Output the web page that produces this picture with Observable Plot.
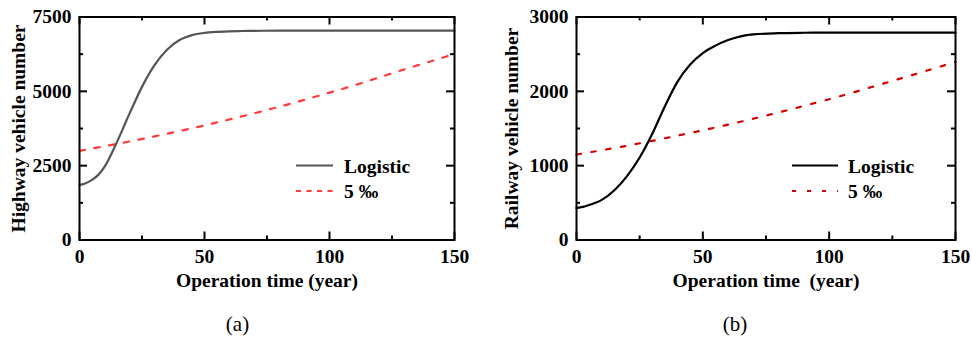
<!DOCTYPE html>
<html><head><meta charset="utf-8">
<script src="https://cdn.jsdelivr.net/npm/d3@7"></script>
<script src="https://cdn.jsdelivr.net/npm/@observablehq/plot@0.6"></script>
<style>
body{margin:0;background:#fff;}
#wrap{display:flex;width:972px;height:340px;}
#wrap svg{display:block;}
</style></head><body><div id="wrap"></div>
<script>
// ---- data ----
const years = [0,2.5,5,7.5,10,15,20,25,30,35,40,45,50,55,60,65,70,80,90,100,110,120,130,140,150];
const highwayLogistic = [1850,1910,2020,2190,2460,3300,4250,5150,5880,6400,6725,6890,6965,7000,7018,7029,7035,7040,7040,7040,7040,7040,7040,7040,7040];
const railwayLogistic = [430,445,470,500,540,670,860,1110,1430,1800,2130,2360,2515,2615,2690,2740,2765,2782,2788,2790,2790,2790,2790,2790,2790];
const rateYears = [0,10,20,30,40,50,60,70,80,90,100,110,120,130,140,150];
const highwayRate = [3000,3155,3315,3485,3665,3855,4055,4265,4485,4715,4955,5205,5470,5740,5995,6255];
const railwayRate = [1150,1208,1268,1334,1404,1476,1552,1632,1716,1804,1894,1990,2090,2190,2292,2395];
const seriesNames = ["Logistic", "5 \u2030"];
const xTicks = [0,50,100,150];
const xMinor = [25,75,125];
const highwayTicks = [0,2500,5000,7500];
const highwayMinor = [1250,3750,6250];
const railwayTicks = [0,1000,2000,3000];
const railwayMinor = [500,1500,2500];
const xTitleA = "Operation time (year)";
const xTitleB = "Operation time\u00a0 (year)";
const yTitleA = "Highway vehicle number";
const yTitleB = "Railway vehicle number";
const captions = ["(a)", "(b)"];

const FONT = "'Liberation Serif', 'Times New Roman', serif";
const FS = 19.5;

function panel(cfg) {
  const W = 486, H = 340;
  const mt = 16.5, mb = 100.5;
  const innerW = W - cfg.ml - cfg.mr;
  const innerH = H - mt - mb;
  const logi = years.map((t,i)=>({t, v: cfg.logistic[i]}));
  const rate = rateYears.map((t,i)=>({t, v: cfg.rate[i]}));
  const tickStyle = {stroke: "black", strokeWidth: 2};
  const fmt = d => String(d);
  const svg = Plot.plot({
    width: W, height: H,
    marginLeft: cfg.ml, marginRight: cfg.mr, marginTop: mt, marginBottom: mb,
    x: {domain: [0,150]},
    y: {domain: [0, cfg.ymax]},
    style: {fontFamily: FONT, fontSize: FS + "px", fontWeight: "bold", color: "black", background: "white", overflow: "visible"},
    marks: [
      Plot.line(rate, {x: "t", y: "v", stroke: cfg.rateColor, strokeWidth: 2.2, strokeDasharray: cfg.dash, curve: "monotone-x"}),
      Plot.line(logi, {x: "t", y: "v", stroke: cfg.logColor, strokeWidth: 2.2, curve: "monotone-x"}),
      // inward ticks
      Plot.tickY(cfg.yTicks, {y: d=>d, insetRight: innerW - 8, ...tickStyle}),
      Plot.tickY(cfg.yMinor, {y: d=>d, insetRight: innerW - 4, ...tickStyle}),
      Plot.tickY(cfg.yTicks, {y: d=>d, insetLeft: innerW - 8, ...tickStyle}),
      Plot.tickY(cfg.yMinor, {y: d=>d, insetLeft: innerW - 4, ...tickStyle}),
      Plot.tickX(xTicks, {x: d=>d, insetTop: innerH - 8, ...tickStyle}),
      Plot.tickX(xMinor, {x: d=>d, insetTop: innerH - 4, ...tickStyle}),
      Plot.tickX(xTicks, {x: d=>d, insetBottom: innerH - 8, ...tickStyle}),
      Plot.tickX(xMinor, {x: d=>d, insetBottom: innerH - 4, ...tickStyle}),
      Plot.frame({stroke: "black", strokeWidth: 2}),
      Plot.axisX(xTicks, {tickSize: 0, tickPadding: 9, label: null, tickFormat: fmt, fontSize: FS, fontWeight: "bold", fill: "black"}),
      Plot.axisY(cfg.yTicks, {tickSize: 0, tickPadding: 8, label: null, tickFormat: fmt, fontSize: FS, fontWeight: "bold", fill: "black"}),
      Plot.text([cfg.xTitle], {frameAnchor: "bottom", dy: 46.5, fontSize: FS, fontWeight: "bold", fill: "black"}),
      Plot.text([cfg.yTitle], {frameAnchor: "left", textAnchor: "middle", rotate: -90, dx: cfg.ytdx, fontSize: FS, fontWeight: "bold", fill: "black"}),
      Plot.text([cfg.caption], {frameAnchor: "bottom", dx: cfg.capdx, dy: 90.5, fontSize: 21, fontWeight: "normal", fill: "black"})
    ]
  });
  // legend
  const g = d3.select(svg).append("g").attr("text-anchor", "start");
  const lx0 = cfg.legX, lx1 = cfg.legX + cfg.legLen;
  g.append("line").attr("x1", lx0).attr("x2", lx1).attr("y1", 165.5).attr("y2", 165.5)
    .attr("stroke", cfg.logColor).attr("stroke-width", 2.2);
  g.append("line").attr("x1", lx0).attr("x2", lx1).attr("y1", 191).attr("y2", 191)
    .attr("stroke", cfg.rateColor).attr("stroke-width", 2.2).attr("stroke-dasharray", cfg.legDash);
  g.append("text").attr("x", cfg.legTextX).attr("y", 172.5).text(seriesNames[0])
    .attr("font-family", FONT).attr("font-size", FS).attr("font-weight", "bold").attr("fill", "black");
  g.append("text").attr("x", cfg.legTextX).attr("y", 197.5).text(seriesNames[1])
    .attr("font-family", FONT).attr("font-size", FS).attr("font-weight", "bold").attr("fill", "black");
  return svg;
}

const wrap = document.getElementById("wrap");
wrap.appendChild(panel({
  ml: 79, mr: 32, ymax: 7500, logistic: highwayLogistic, rate: highwayRate,
  logColor: "#555555", rateColor: "#ff3b3b", dash: "5.5,9.5",
  yTicks: highwayTicks, yMinor: highwayMinor, xTitle: xTitleA, yTitle: yTitleA,
  ytdx: -61, capdx: -29.5, caption: captions[0],
  legX: 296, legLen: 37, legDash: "5,5.5", legTextX: 344
}));
wrap.appendChild(panel({
  ml: 90, mr: 17, ymax: 3000, logistic: railwayLogistic, rate: railwayRate,
  logColor: "#000000", rateColor: "#d40000", dash: "4.5,10.5",
  yTicks: railwayTicks, yMinor: railwayMinor, xTitle: xTitleB, yTitle: yTitleB,
  ytdx: -64.5, capdx: -31, caption: captions[1],
  legX: 306, legLen: 46, legDash: "4,11", legTextX: 362
}));
</script></body></html>
